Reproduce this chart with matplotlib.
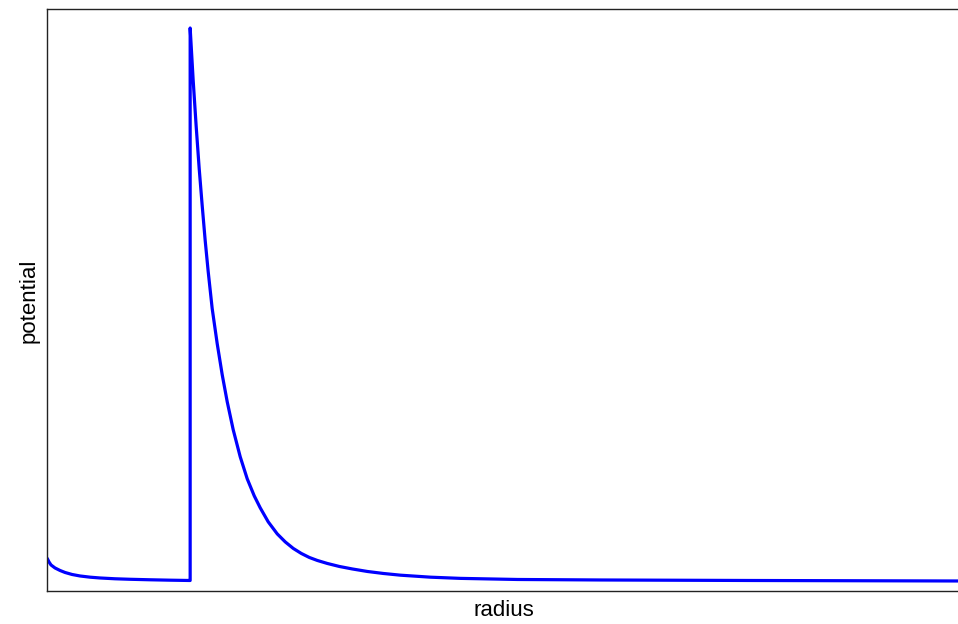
import matplotlib
matplotlib.use("Agg")
import matplotlib.pyplot as plt

# Values (arbitrary units; no tick labels in reference)
radius = [0, 2, 4, 8, 13, 18, 25, 33, 43, 53, 68, 83, 103, 123, 142,
          143, 143,
          146, 149, 152, 155, 158, 161, 165, 170, 175, 180, 186, 193, 200,
          207, 213, 221, 230, 238, 246, 254, 262, 270, 280, 292, 305, 320,
          336, 353, 383, 413, 470, 553, 700, 910]
potential = [33, 29, 26, 23, 20.5, 18.5, 16.5, 15, 13.8, 13, 12.2, 11.7, 11.2, 10.8, 10.5,
             10.5, 562,
             510, 464, 422, 385, 350, 319, 282, 247, 216, 189, 161, 134, 112,
             95, 83, 69, 57, 49, 42.5, 37.5, 33.5, 30.5, 27.5, 24.5, 22, 19.5,
             17.5, 15.8, 13.8, 12.6, 11.5, 11, 10.5, 10]

x_label = "radius"
y_label = "potential"

fig = plt.figure(figsize=(9.58, 6.24), dpi=100)
ax = fig.add_axes([47 / 958, 33 / 624, 911 / 958, 582 / 624])
ax.plot(radius, potential, color="#0000ff", linewidth=2.3,
        solid_joinstyle="round", solid_capstyle="butt")
ax.set_xlim(0, 910)
ax.set_ylim(0, 581)
ax.set_xticks([])
ax.set_yticks([])
ax.spines["right"].set_visible(False)
for s in ["left", "top", "bottom"]:
    ax.spines[s].set_color("#222222")
    ax.spines[s].set_linewidth(1.0)

fig.text(504 / 958, 1 - 611 / 624, x_label, ha="center", va="center",
         fontsize=16, family="Liberation Sans")
fig.text(29 / 958, 1 - 301 / 624, y_label, ha="center", va="center",
         rotation=90, fontsize=16, family="Liberation Sans")

fig.savefig("out.png", dpi=100)
